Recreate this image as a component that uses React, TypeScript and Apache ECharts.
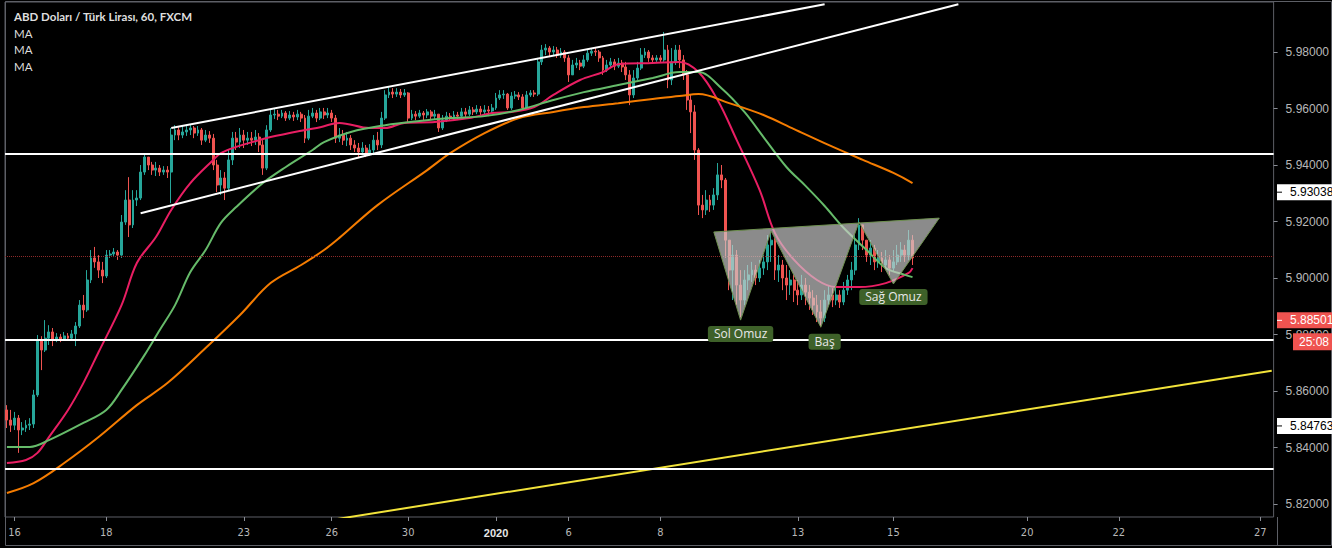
import React, { useEffect, useRef } from "react";
import * as echarts from "echarts";

// ---------- DATA ----------
const SLOT_COUNT = 332; // 2-hour slots across the visible time range
const firstOpen = 5.8533;

// [close, high, low] per 2-hour candle
const weekDec16: number[][] = [
  [5.8497, 5.855, 5.8469], [5.8479, 5.8533, 5.8455], [5.8504, 5.8526, 5.8462], [5.8462, 5.8515, 5.8381],
  [5.8469, 5.849, 5.8444], [5.8479, 5.8497, 5.8455], [5.8483, 5.8504, 5.8462], [5.8586, 5.8604, 5.8469],
  [5.878, 5.8798, 5.8579], [5.8745, 5.8794, 5.8674], [5.8787, 5.8851, 5.8738], [5.8809, 5.8833, 5.8763],
  [5.878, 5.8823, 5.8759], [5.8791, 5.8805, 5.8773], [5.8784, 5.8802, 5.8773], [5.8795, 5.8809, 5.8777],
  [5.8787, 5.8805, 5.8777], [5.8802, 5.8816, 5.878], [5.883, 5.8844, 5.8759], [5.8904, 5.8922, 5.8823],
  [5.8887, 5.894, 5.8858], [5.8993, 5.9028, 5.888], [5.9071, 5.9099, 5.8982], [5.9057, 5.911, 5.9036],
  [5.9028, 5.9081, 5.9], [5.9007, 5.9057, 5.8982], [5.9081, 5.9099, 5.9], [5.9085, 5.9099, 5.9071],
  [5.9092, 5.9106, 5.9074], [5.9081, 5.9099, 5.9064], [5.9198, 5.9223, 5.9071], [5.9276, 5.9311, 5.9188],
  [5.9188, 5.9357, 5.9145], [5.9276, 5.9311, 5.9177], [5.9283, 5.9311, 5.9255], [5.9375, 5.94, 5.9276],
  [5.9428, 5.9442, 5.9365], [5.94, 5.9428, 5.9382], [5.9382, 5.9411, 5.9365], [5.9389, 5.9411, 5.9361],
  [5.9375, 5.94, 5.9361], [5.9382, 5.9396, 5.9365], [5.9375, 5.9396, 5.9354], [5.9506, 5.9531, 5.9265],
  [5.9524, 5.9541, 5.9488], [5.9506, 5.9534, 5.9488], [5.9517, 5.9538, 5.9495], [5.9524, 5.9541, 5.9503],
  [5.9531, 5.9545, 5.9506], [5.9513, 5.9538, 5.9495], [5.9524, 5.9538, 5.9503], [5.9488, 5.9531, 5.9471],
  [5.9506, 5.9524, 5.9481], [5.9495, 5.952, 5.9478], [5.94, 5.951, 5.9382], [5.9329, 5.9418, 5.9304],
  [5.9354, 5.9382, 5.9294], [5.9318, 5.9375, 5.9276], [5.9418, 5.9453, 5.9311], [5.9495, 5.9517, 5.94],
  [5.9481, 5.9517, 5.9453], [5.9506, 5.9531, 5.946],
];
const weekDec23: number[][] = [
  [5.9488, 5.9524, 5.946], [5.9495, 5.9517, 5.9471], [5.9488, 5.9517, 5.9467], [5.9499, 5.9524, 5.9471],
  [5.9471, 5.9513, 5.9446], [5.9389, 5.9488, 5.9365], [5.9524, 5.9541, 5.9382], [5.9577, 5.9595, 5.9517],
  [5.958, 5.9598, 5.9563], [5.9573, 5.9595, 5.9559], [5.9584, 5.9595, 5.9566], [5.9566, 5.9591, 5.9556],
  [5.9577, 5.9591, 5.9559], [5.957, 5.9588, 5.9556], [5.958, 5.9595, 5.9559], [5.9566, 5.9588, 5.9552],
  [5.9495, 5.9577, 5.9478], [5.9573, 5.9595, 5.9488], [5.9584, 5.9602, 5.9566], [5.9566, 5.9595, 5.9552],
  [5.9588, 5.9602, 5.9559], [5.9577, 5.9602, 5.9563], [5.9584, 5.9602, 5.9566], [5.9566, 5.9595, 5.9552],
  [5.9495, 5.9577, 5.9478], [5.9506, 5.9531, 5.9481], [5.9488, 5.9524, 5.9471], [5.9495, 5.9517, 5.9467],
  [5.9471, 5.9506, 5.9453], [5.946, 5.9488, 5.9446], [5.9446, 5.9478, 5.9428], [5.946, 5.9481, 5.9435],
  [5.9442, 5.9471, 5.9428], [5.9453, 5.9474, 5.9432], [5.9488, 5.9506, 5.9435], [5.9471, 5.9517, 5.9453],
  [5.9566, 5.9588, 5.946], [5.9648, 5.9665, 5.9559], [5.9658, 5.9676, 5.9637], [5.9651, 5.9672, 5.9637],
  [5.9658, 5.9672, 5.9641], [5.9648, 5.9669, 5.9637], [5.9655, 5.9669, 5.9641],
];
const weekDec30: number[][] = [
  [5.9566, 5.9658, 5.9552], [5.958, 5.9595, 5.9559], [5.9573, 5.9591, 5.9559], [5.9584, 5.9595, 5.9566],
  [5.9577, 5.9591, 5.9559], [5.9588, 5.9598, 5.9566], [5.9573, 5.9595, 5.9559], [5.958, 5.9595, 5.9563],
  [5.9531, 5.9577, 5.9517], [5.9559, 5.9577, 5.9524], [5.9573, 5.9588, 5.9552], [5.957, 5.9584, 5.9556],
  [5.9577, 5.9591, 5.9559], [5.9573, 5.9588, 5.9559], [5.9588, 5.9602, 5.9566], [5.958, 5.9602, 5.957],
  [5.9595, 5.9609, 5.9573], [5.9588, 5.9605, 5.9577], [5.9598, 5.9612, 5.958], [5.9588, 5.9609, 5.9577],
  [5.9595, 5.9612, 5.958], [5.9591, 5.9609, 5.9573], [5.9602, 5.9616, 5.9584], [5.9637, 5.9655, 5.9595],
  [5.9648, 5.9665, 5.963], [5.9651, 5.9665, 5.9634], [5.9602, 5.9655, 5.9595], [5.9644, 5.9658, 5.9595],
  [5.9648, 5.9662, 5.9634], [5.9641, 5.9658, 5.963], [5.9602, 5.9651, 5.9595], [5.9648, 5.9662, 5.9598],
  [5.9655, 5.9665, 5.9641], [5.9651, 5.9665, 5.9641], [5.9765, 5.9779, 5.9644], [5.9807, 5.9825, 5.9754],
  [5.9814, 5.9828, 5.9789], [5.98, 5.9821, 5.9782], [5.9807, 5.9821, 5.9786], [5.9789, 5.9818, 5.9779],
  [5.98, 5.9814, 5.9779], [5.9779, 5.9807, 5.9765],
];
const weekJan6: number[][] = [
  [5.9719, 5.9789, 5.9694], [5.9754, 5.9772, 5.9729], [5.9761, 5.9779, 5.9743], [5.975, 5.9772, 5.9736],
  [5.9772, 5.9789, 5.9743], [5.9796, 5.9811, 5.9765], [5.9803, 5.9814, 5.9786], [5.98, 5.9814, 5.9786],
  [5.9779, 5.9807, 5.9765], [5.9736, 5.9786, 5.9719], [5.9754, 5.9772, 5.9729], [5.9765, 5.9779, 5.9743],
  [5.975, 5.9775, 5.9736], [5.9761, 5.9779, 5.9743], [5.9747, 5.9772, 5.9729], [5.9719, 5.9765, 5.9701],
  [5.9648, 5.9736, 5.9612], [5.9708, 5.9736, 5.9637], [5.9743, 5.9765, 5.9701], [5.9789, 5.9814, 5.9736],
  [5.98, 5.9814, 5.9779], [5.9779, 5.9807, 5.9765], [5.9772, 5.9789, 5.9761], [5.9779, 5.9789, 5.9765],
  [5.9772, 5.9789, 5.9761], [5.9807, 5.9871, 5.9765], [5.9701, 5.9825, 5.9672], [5.9765, 5.9814, 5.9683],
  [5.9807, 5.9825, 5.9754], [5.9772, 5.9825, 5.9743], [5.9719, 5.9789, 5.9701], [5.963, 5.9736, 5.9595],
  [5.9588, 5.9648, 5.9513], [5.9453, 5.9612, 5.9418], [5.9258, 5.946, 5.9223], [5.9241, 5.9294, 5.9212],
  [5.9276, 5.9311, 5.9223], [5.9258, 5.9294, 5.9234], [5.9294, 5.9318, 5.9241], [5.9365, 5.9407, 5.9276],
  [5.9347, 5.94, 5.9318], [5.9134, 5.9354, 5.9071], [5.9028, 5.9134, 5.8957], [5.9081, 5.9117, 5.8922],
  [5.8975, 5.9099, 5.8904], [5.8922, 5.9028, 5.8862], [5.8993, 5.9028, 5.8904], [5.9011, 5.9046, 5.8957],
  [5.9028, 5.9057, 5.8986], [5.9, 5.9046, 5.8975], [5.9035, 5.9064, 5.8986], [5.9057, 5.9081, 5.9011],
  [5.9117, 5.9152, 5.9028], [5.9134, 5.9163, 5.9057], [5.9028, 5.9141, 5.8993], [5.9046, 5.9081, 5.8986],
  [5.9, 5.9064, 5.8957], [5.8975, 5.9046, 5.8922], [5.8993, 5.9028, 5.894], [5.8957, 5.9011, 5.8915],
];
const weekJan13: number[][] = [
  [5.894, 5.8993, 5.8904], [5.8975, 5.9011, 5.8922], [5.895, 5.9, 5.8904], [5.8929, 5.8975, 5.8887],
  [5.8904, 5.8957, 5.8869], [5.888, 5.894, 5.8844], [5.8858, 5.8922, 5.8826], [5.8922, 5.8957, 5.8844],
  [5.894, 5.8975, 5.8904], [5.8922, 5.8964, 5.8897], [5.894, 5.8975, 5.8904], [5.8915, 5.8957, 5.8894],
  [5.8957, 5.8986, 5.8904], [5.8993, 5.9011, 5.894], [5.9028, 5.9057, 5.8957], [5.9117, 5.9152, 5.9011],
  [5.9188, 5.9212, 5.9099], [5.9134, 5.9188, 5.9099], [5.9081, 5.9134, 5.9057], [5.9106, 5.9134, 5.9046],
  [5.9057, 5.9117, 5.9028], [5.9071, 5.9099, 5.9036], [5.9046, 5.9092, 5.9021], [5.9064, 5.9099, 5.9028],
  [5.9035, 5.9081, 5.9011], [5.9057, 5.9099, 5.9021], [5.9081, 5.9117, 5.9046], [5.9099, 5.9127, 5.9057],
  [5.9081, 5.9117, 5.9057], [5.9134, 5.917, 5.9064], [5.9071, 5.9152, 5.9046],
];

// moving averages, [slot, price]
const maFast: number[][] = [
  [0, 5.8345], [5, 5.8356], [8, 5.8381], [11, 5.8437], [16, 5.8533], [20, 5.8628], [24, 5.8738],
  [30, 5.8904], [34, 5.9053], [39, 5.9145], [43, 5.9241], [48, 5.9336], [54, 5.9418], [56, 5.9442],
  [60, 5.9464], [66, 5.9488], [69, 5.9499], [78, 5.9524], [82, 5.9534], [87, 5.9549], [95, 5.9531],
  [99, 5.9531], [104, 5.9549], [112, 5.9552], [121, 5.9566], [127, 5.9584], [132, 5.9588], [138, 5.9605],
  [143, 5.9648], [150, 5.9701], [156, 5.9729], [160, 5.9757], [169, 5.9761], [176, 5.9765], [181, 5.9729],
  [186, 5.963], [191, 5.9488], [197, 5.9311], [201, 5.9159], [206, 5.9064], [212, 5.8993], [217, 5.8968],
  [223, 5.8968], [230, 5.8982], [236, 5.9018], [237, 5.9035],
];
const maMid: number[][] = [
  [0, 5.8402], [6, 5.8402], [11, 5.8426], [20, 5.8487], [26, 5.8533], [30, 5.8604], [36, 5.8727],
  [40, 5.8816], [44, 5.8904], [48, 5.9021], [52, 5.9099], [56, 5.9195], [60, 5.9251], [67, 5.9336],
  [73, 5.9393], [80, 5.9453], [83, 5.9481], [90, 5.9517], [99, 5.9541], [108, 5.9556], [116, 5.9566],
  [125, 5.9573], [134, 5.9595], [143, 5.963], [151, 5.9658], [160, 5.9683], [169, 5.9708], [176, 5.9729],
  [181, 5.9729], [187, 5.9672], [193, 5.9588], [198, 5.9499], [204, 5.9393], [209, 5.9326], [214, 5.9255],
  [219, 5.9177], [225, 5.9099], [230, 5.9035], [235, 5.9011], [237, 5.9003],
];
const maSlow: number[][] = [
  [0, 5.8239], [7, 5.8274], [15, 5.8345], [24, 5.8437], [34, 5.855], [42, 5.8628], [52, 5.8752],
  [61, 5.8869], [69, 5.8982], [77, 5.9046], [83, 5.9099], [87, 5.9142], [97, 5.9258], [110, 5.9382],
  [116, 5.9442], [125, 5.9513], [134, 5.9566], [143, 5.9588], [151, 5.9605], [160, 5.9619], [169, 5.9634],
  [176, 5.9644], [181, 5.9651], [189, 5.9619], [198, 5.9577], [206, 5.9527], [215, 5.9471], [224, 5.9418],
  [232, 5.9372], [237, 5.9336],
];

const dateLabelSlots = [2, 26, 62, 85, 105, 128, 147, 171, 207, 232, 267, 291, 328];
const dateLabels = ["16", "18", "23", "26", "30", "2020", "6", "8", "13", "15", "20", "22", "27"];
const priceTicks = [5.82, 5.84, 5.86, 5.88, 5.9, 5.92, 5.94, 5.96, 5.98];

const horizontalLevels = [5.9441, 5.8782, 5.8324];
const lastPriceLevel = 5.9077;
const channelUpper = [[43, 5.9531], [214, 5.9969]];
const channelLower = [[35, 5.9229], [249, 5.9969]];
const yellowTrend = [[80, 5.8133], [331, 5.8672]];

const hsPattern = [[185, 5.9163], [192, 5.8851], [200, 5.9166], [213, 5.8826], [223, 5.9198], [232, 5.8979], [244, 5.9212]];
const hsLabels = ["Sol Omuz", "Baş", "Sağ Omuz"];
const hsLabelAt = [[192, 5.8802], [214, 5.8774], [232, 5.8933]];

const scaleTagValues = [5.93038, 5.88501, 5.84763];
const scaleTagTexts = ["5.93038", "5.88501", "5.84763"];
const countdownText = "25:08";

const titleText = "ABD Doları / Türk Lirası, 60, FXCM";
const indicatorNames = ["MA", "MA", "MA"];

// ---------- COMPONENT ----------
export default function App() {
  const ref = useRef<HTMLDivElement>(null);

  useEffect(() => {
    if (!ref.current) return;
    const chart = echarts.init(ref.current, undefined, { renderer: "svg" });

    const categories = Array.from({ length: SLOT_COUNT }, (_, i) => String(i));
    const bars: number[][] = [];
    let prev = firstOpen;
    for (const wk of [weekDec16, weekDec23, weekDec30, weekJan6, weekJan13]) {
      for (const [c, h, l] of wk) {
        const o = prev;
        bars.push([o, c, Math.min(l, o, c), Math.max(h, o, c)]);
        prev = c;
      }
    }
    const labelSet = new Set(dateLabelSlots);
    const axisFont = "'Liberation Sans', Arial, sans-serif";

    const maSeries = (data: number[][], color: string) => ({
      type: "line",
      data,
      symbol: "none",
      smooth: 0.35,
      lineStyle: { color, width: 2 },
      z: 3,
      silent: true,
    });
    const trend = (data: number[][], color: string, width = 2) => ({
      type: "line",
      data,
      symbol: "none",
      lineStyle: { color, width },
      z: 4,
      silent: true,
    });

    const tagFill = ["#ffffff", "#ef5350", "#ffffff"];
    const tagText = ["#000000", "#ffffff", "#000000"];

    chart.setOption({
      animation: false,
      backgroundColor: "#000000",
      grid: { left: 5, right: 55, top: 2, bottom: 31, show: true, borderColor: "#5d5f66", borderWidth: 1, backgroundColor: "transparent" },
      xAxis: {
        type: "category",
        data: categories,
        boundaryGap: true,
        axisLine: { show: false },
        axisTick: {
          show: true,
          alignWithLabel: true,
          interval: (i: number) => labelSet.has(i),
          length: 4,
          lineStyle: { color: "#8a8d95" },
        },
        axisLabel: {
          interval: (i: number) => labelSet.has(i),
          formatter: (v: string) => {
            const t = dateLabels[dateLabelSlots.indexOf(Number(v))] ?? "";
            return t === "2020" ? "{b|2020}" : t;
          },
          color: "#b8b8b8",
          fontSize: 11,
          fontFamily: "'Liberation Sans Narrow', 'DejaVu Sans Condensed', " + axisFont,
          margin: 10,
          rich: { b: { fontWeight: "bold", color: "#e6e6e6", fontSize: 11, fontFamily: axisFont } },
        },
        splitLine: { show: false },
      },
      yAxis: {
        type: "value",
        position: "right",
        min: 5.8154,
        max: 5.9977,
        scale: true,
        axisLine: { show: false },
        splitLine: { show: false },
        axisTick: { show: true, customValues: priceTicks, length: 4, lineStyle: { color: "#8a8d95" } },
        axisLabel: {
          customValues: priceTicks,
          formatter: (v: number) => v.toFixed(5),
          color: "#b8b8b8",
          fontSize: 12,
          fontFamily: axisFont,
          margin: 12,
        },
      },
      graphic: [
        { type: "rect", shape: { x: 5.5, y: 1.5, width: 1326, height: 544 }, style: { fill: "none", stroke: "#5d5f66", lineWidth: 1 }, silent: true },
        { type: "line", shape: { x1: 1277.5, y1: 517, x2: 1277.5, y2: 546 }, style: { stroke: "#5d5f66", lineWidth: 1 }, silent: true },
        { type: "text", left: 14, top: 10, style: { text: titleText, fill: "#dedede", font: "bold 11.5px Lato, 'Open Sans', sans-serif" } },
        ...indicatorNames.map((t, i) => ({
          type: "text",
          left: 14,
          top: 27 + i * 16.5,
          style: { text: t, fill: "#dedede", font: "11.5px Lato, 'Open Sans', sans-serif" },
        })),
      ],
      series: [
        {
          type: "candlestick",
          data: bars,
          barWidth: 2.4,
          z: 2,
          silent: true,
          itemStyle: { color: "#26a69a", color0: "#ef5350", borderColor: "#26a69a", borderColor0: "#ef5350", borderWidth: 1 },
          markLine: {
            symbol: "none",
            silent: true,
            precision: 5,
            label: { show: false },
            data: [
              ...horizontalLevels.map((v) => ({ yAxis: v, lineStyle: { color: "#ffffff", width: 2, type: "solid" } })),
              { yAxis: lastPriceLevel, lineStyle: { color: "#8c2a2a", width: 1, type: "dotted" } },
            ],
          },
        },
        maSeries(maFast, "#e91e63"),
        maSeries(maMid, "#66bb6a"),
        maSeries(maSlow, "#f57c00"),
        trend(channelUpper, "#ffffff"),
        trend(channelLower, "#ffffff"),
        trend(yellowTrend, "#f2e33a"),
        {
          type: "custom",
          data: [[0, 5.9]],
          z: 5,
          silent: true,
          renderItem: (_p: any, api: any) => ({
            type: "polygon",
            shape: { points: hsPattern.map((pt) => api.coord(pt)) },
            style: { fill: "rgba(205,205,205,0.68)", stroke: "#6f9150", lineWidth: 1 },
          }),
        },
        {
          type: "custom",
          data: hsLabelAt.map((p) => [p[0], p[1]]),
          z: 6,
          silent: true,
          renderItem: (params: any, api: any) => {
            const pt = api.coord(hsLabelAt[params.dataIndex]);
            return {
              type: "text",
              x: pt[0],
              y: pt[1],
              style: {
                text: hsLabels[params.dataIndex],
                fill: "#e8e8e8",
                font: "12px 'Open Sans', 'Noto Sans', sans-serif",
                align: "center",
                verticalAlign: "middle",
                backgroundColor: "#3e6129",
                padding: [2, 6, 2, 6],
                borderRadius: 3,
              },
            };
          },
        },
        {
          type: "custom",
          data: scaleTagValues.map((v) => [0, v]),
          z: 8,
          silent: true,
          clip: false,
          renderItem: (params: any, api: any) => {
            const i = params.dataIndex;
            const y = api.coord([0, scaleTagValues[i]])[1];
            const x0 = 1277;
            const children: any[] = [
              { type: "rect", shape: { x: x0, y: y - 8, width: 60, height: 16 }, style: { fill: tagFill[i] } },
              { type: "line", shape: { x1: x0, y1: y, x2: x0 + 5, y2: y }, style: { stroke: tagText[i], lineWidth: 1 } },
              {
                type: "text",
                x: x0 + 13,
                y,
                style: { text: scaleTagTexts[i], fill: tagText[i], font: "12px " + axisFont, verticalAlign: "middle" },
              },
            ];
            if (i === 1) {
              children.push(
                { type: "rect", shape: { x: x0 + 16, y: y + 13, width: 50, height: 17 }, style: { fill: tagFill[i] } },
                {
                  type: "text",
                  x: x0 + 22,
                  y: y + 21.5,
                  style: { text: countdownText, fill: "#ffffff", font: "12px " + axisFont, verticalAlign: "middle" },
                }
              );
            }
            return { type: "group", children };
          },
        },
      ],
    });

    return () => chart.dispose();
  }, []);

  return (
    <div
      ref={ref}
      style={{ position: "fixed", left: 0, top: 0, width: 1332, height: 548, background: "#000" }}
    />
  );
}
